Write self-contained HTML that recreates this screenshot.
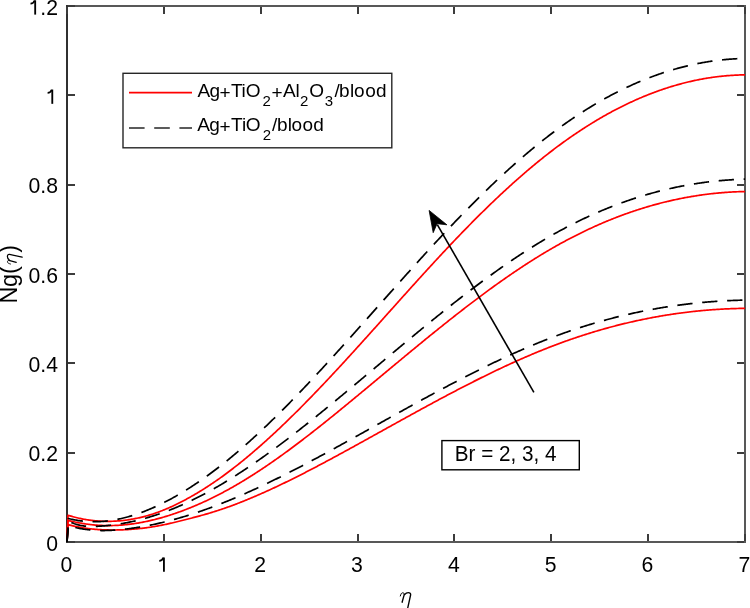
<!DOCTYPE html>
<html><head><meta charset="utf-8"><style>
html,body{margin:0;padding:0;background:#fff;width:750px;height:608px;overflow:hidden;}
svg{display:block;font-family:"Liberation Sans",sans-serif;will-change:transform;}
</style></head><body>
<svg width="750" height="608" viewBox="0 0 750 608">
<rect width="750" height="608" fill="#fff"/>
<g stroke="#3a3a3a" stroke-width="2" fill="none" shape-rendering="crispEdges">
<path d="M66,6 H746 M745,5 V543 M66,542 H746" stroke="#585858"/>
<path d="M67,5 V543" stroke="#303030"/>
<path d="M67,541 V534 M67,7 V14 M164,541 V534 M164,7 V14 M261,541 V534 M261,7 V14 M358,541 V534 M358,7 V14 M454,541 V534 M454,7 V14 M551,541 V534 M551,7 V14 M648,541 V534 M648,7 V14 M745,541 V534 M745,7 V14 M68,542 H75 M744,542 H737 M68,453 H75 M744,453 H737 M68,363 H75 M744,363 H737 M68,274 H75 M744,274 H737 M68,185 H75 M744,185 H737 M68,95 H75 M744,95 H737 M68,6 H75 M744,6 H737" stroke-width="2" stroke="#3c3c3c"/>
</g>
<g fill="none" stroke-linejoin="round">
<path d="M67.00,542.00 L68.00,524.59 L69.00,524.86 L70.00,525.12 L71.00,525.38 L72.00,525.63 L73.00,525.86 L74.00,526.09 L75.00,526.32 L76.00,526.53 L77.00,526.74 L78.00,526.94 L79.00,527.13 L80.00,527.32 L81.00,527.50 L82.00,527.67 L83.00,527.83 L84.00,527.99 L85.00,528.14 L86.00,528.29 L87.00,528.42 L88.00,528.55 L89.00,528.68 L90.00,528.80 L91.00,528.91 L92.00,529.02 L93.00,529.12 L94.00,529.21 L95.00,529.30 L96.00,529.38 L97.00,529.46 L98.00,529.53 L99.00,529.59 L100.00,529.65 L101.00,529.71 L102.00,529.76 L103.00,529.81 L104.00,529.85 L105.00,529.88 L106.00,529.91 L107.00,529.94 L108.00,529.96 L109.00,529.98 L110.00,529.99 L111.00,530.00 L112.00,530.00 L113.00,530.00 L114.00,530.00 L115.00,529.99 L116.00,529.98 L117.00,529.96 L118.00,529.94 L119.00,529.92 L120.00,529.89 L121.00,529.86 L122.00,529.83 L123.00,529.79 L124.00,529.75 L125.00,529.70 L126.00,529.65 L127.00,529.60 L128.00,529.54 L129.00,529.48 L130.00,529.41 L131.00,529.34 L132.00,529.27 L133.00,529.19 L134.00,529.11 L135.00,529.02 L136.00,528.93 L137.00,528.84 L138.00,528.74 L139.00,528.64 L140.00,528.53 L141.00,528.42 L142.00,528.31 L143.00,528.19 L144.00,528.07 L145.00,527.94 L146.00,527.81 L147.00,527.67 L148.00,527.53 L149.00,527.39 L150.00,527.24 L151.00,527.09 L152.00,526.93 L153.00,526.77 L154.00,526.61 L155.00,526.44 L156.00,526.26 L157.00,526.08 L158.00,525.90 L159.00,525.71 L160.00,525.52 L161.00,525.33 L162.00,525.13 L163.00,524.93 L164.00,524.72 L165.00,524.51 L166.00,524.30 L167.00,524.08 L168.00,523.86 L169.00,523.64 L170.00,523.41 L171.00,523.19 L172.00,522.96 L173.00,522.72 L174.00,522.49 L175.00,522.25 L176.00,522.01 L177.00,521.77 L178.00,521.52 L179.00,521.28 L180.00,521.03 L181.00,520.78 L182.00,520.53 L183.00,520.27 L184.00,520.02 L185.00,519.77 L186.00,519.51 L187.00,519.25 L188.00,518.99 L189.00,518.73 L190.00,518.48 L191.00,518.21 L192.00,517.95 L193.00,517.69 L194.00,517.43 L195.00,517.16 L196.00,516.89 L197.00,516.63 L198.00,516.36 L199.00,516.09 L200.00,515.81 L201.00,515.54 L202.00,515.26 L203.00,514.99 L204.00,514.71 L205.00,514.42 L206.00,514.14 L207.00,513.85 L208.00,513.56 L209.00,513.27 L210.00,512.97 L211.00,512.67 L212.00,512.37 L213.00,512.06 L214.00,511.75 L215.00,511.43 L216.00,511.12 L217.00,510.80 L218.00,510.47 L219.00,510.15 L220.00,509.81 L221.00,509.48 L222.00,509.14 L223.00,508.80 L224.00,508.46 L225.00,508.11 L226.00,507.76 L227.00,507.41 L228.00,507.05 L229.00,506.69 L230.00,506.33 L231.00,505.96 L232.00,505.60 L233.00,505.22 L234.00,504.85 L235.00,504.47 L236.00,504.09 L237.00,503.71 L238.00,503.32 L239.00,502.94 L240.00,502.54 L241.00,502.15 L242.00,501.75 L243.00,501.36 L244.00,500.95 L245.00,500.55 L246.00,500.14 L247.00,499.73 L248.00,499.32 L249.00,498.91 L250.00,498.49 L251.00,498.07 L252.00,497.65 L253.00,497.23 L254.00,496.80 L255.00,496.38 L256.00,495.95 L257.00,495.51 L258.00,495.08 L259.00,494.64 L260.00,494.20 L261.00,493.76 L262.00,493.32 L263.00,492.88 L264.00,492.43 L265.00,491.98 L266.00,491.53 L267.00,491.08 L268.00,490.62 L269.00,490.17 L270.00,489.71 L271.00,489.25 L272.00,488.79 L273.00,488.32 L274.00,487.86 L275.00,487.39 L276.00,486.92 L277.00,486.45 L278.00,485.98 L279.00,485.50 L280.00,485.03 L281.00,484.55 L282.00,484.07 L283.00,483.59 L284.00,483.11 L285.00,482.62 L286.00,482.14 L287.00,481.65 L288.00,481.16 L289.00,480.67 L290.00,480.18 L291.00,479.69 L292.00,479.19 L293.00,478.70 L294.00,478.20 L295.00,477.70 L296.00,477.20 L297.00,476.70 L298.00,476.19 L299.00,475.69 L300.00,475.18 L301.00,474.68 L302.00,474.17 L303.00,473.66 L304.00,473.15 L305.00,472.64 L306.00,472.12 L307.00,471.61 L308.00,471.09 L309.00,470.57 L310.00,470.06 L311.00,469.54 L312.00,469.02 L313.00,468.50 L314.00,467.97 L315.00,467.45 L316.00,466.92 L317.00,466.40 L318.00,465.87 L319.00,465.34 L320.00,464.82 L321.00,464.29 L322.00,463.76 L323.00,463.22 L324.00,462.69 L325.00,462.16 L326.00,461.62 L327.00,461.09 L328.00,460.55 L329.00,460.02 L330.00,459.48 L331.00,458.94 L332.00,458.40 L333.00,457.86 L334.00,457.32 L335.00,456.78 L336.00,456.24 L337.00,455.70 L338.00,455.15 L339.00,454.61 L340.00,454.07 L341.00,453.52 L342.00,452.98 L343.00,452.43 L344.00,451.88 L345.00,451.34 L346.00,450.79 L347.00,450.24 L348.00,449.69 L349.00,449.14 L350.00,448.59 L351.00,448.05 L352.00,447.50 L353.00,446.94 L354.00,446.39 L355.00,445.84 L356.00,445.29 L357.00,444.74 L358.00,444.19 L359.00,443.63 L360.00,443.08 L361.00,442.53 L362.00,441.98 L363.00,441.42 L364.00,440.87 L365.00,440.32 L366.00,439.76 L367.00,439.21 L368.00,438.65 L369.00,438.10 L370.00,437.55 L371.00,436.99 L372.00,436.44 L373.00,435.88 L374.00,435.33 L375.00,434.77 L376.00,434.22 L377.00,433.66 L378.00,433.11 L379.00,432.55 L380.00,432.00 L381.00,431.44 L382.00,430.89 L383.00,430.33 L384.00,429.78 L385.00,429.22 L386.00,428.66 L387.00,428.11 L388.00,427.55 L389.00,427.00 L390.00,426.45 L391.00,425.89 L392.00,425.34 L393.00,424.78 L394.00,424.23 L395.00,423.67 L396.00,423.12 L397.00,422.57 L398.00,422.01 L399.00,421.46 L400.00,420.91 L401.00,420.35 L402.00,419.80 L403.00,419.25 L404.00,418.70 L405.00,418.14 L406.00,417.59 L407.00,417.04 L408.00,416.49 L409.00,415.94 L410.00,415.39 L411.00,414.84 L412.00,414.29 L413.00,413.74 L414.00,413.19 L415.00,412.64 L416.00,412.09 L417.00,411.55 L418.00,411.00 L419.00,410.45 L420.00,409.91 L421.00,409.36 L422.00,408.81 L423.00,408.27 L424.00,407.72 L425.00,407.18 L426.00,406.64 L427.00,406.09 L428.00,405.55 L429.00,405.01 L430.00,404.47 L431.00,403.93 L432.00,403.39 L433.00,402.85 L434.00,402.31 L435.00,401.77 L436.00,401.23 L437.00,400.69 L438.00,400.16 L439.00,399.62 L440.00,399.09 L441.00,398.55 L442.00,398.02 L443.00,397.49 L444.00,396.95 L445.00,396.42 L446.00,395.89 L447.00,395.36 L448.00,394.83 L449.00,394.30 L450.00,393.78 L451.00,393.25 L452.00,392.72 L453.00,392.20 L454.00,391.67 L455.00,391.15 L456.00,390.63 L457.00,390.11 L458.00,389.59 L459.00,389.07 L460.00,388.55 L461.00,388.03 L462.00,387.51 L463.00,386.99 L464.00,386.48 L465.00,385.96 L466.00,385.45 L467.00,384.94 L468.00,384.43 L469.00,383.92 L470.00,383.41 L471.00,382.90 L472.00,382.39 L473.00,381.89 L474.00,381.38 L475.00,380.88 L476.00,380.37 L477.00,379.87 L478.00,379.37 L479.00,378.87 L480.00,378.37 L481.00,377.88 L482.00,377.38 L483.00,376.89 L484.00,376.39 L485.00,375.90 L486.00,375.41 L487.00,374.92 L488.00,374.43 L489.00,373.94 L490.00,373.46 L491.00,372.97 L492.00,372.49 L493.00,372.00 L494.00,371.52 L495.00,371.04 L496.00,370.56 L497.00,370.09 L498.00,369.61 L499.00,369.14 L500.00,368.66 L501.00,368.19 L502.00,367.72 L503.00,367.25 L504.00,366.79 L505.00,366.32 L506.00,365.86 L507.00,365.39 L508.00,364.93 L509.00,364.47 L510.00,364.01 L511.00,363.55 L512.00,363.10 L513.00,362.64 L514.00,362.19 L515.00,361.74 L516.00,361.29 L517.00,360.84 L518.00,360.40 L519.00,359.95 L520.00,359.51 L521.00,359.07 L522.00,358.63 L523.00,358.19 L524.00,357.75 L525.00,357.32 L526.00,356.89 L527.00,356.45 L528.00,356.03 L529.00,355.60 L530.00,355.17 L531.00,354.75 L532.00,354.32 L533.00,353.90 L534.00,353.48 L535.00,353.07 L536.00,352.65 L537.00,352.24 L538.00,351.82 L539.00,351.41 L540.00,351.01 L541.00,350.60 L542.00,350.19 L543.00,349.79 L544.00,349.39 L545.00,348.99 L546.00,348.59 L547.00,348.20 L548.00,347.81 L549.00,347.41 L550.00,347.03 L551.00,346.64 L552.00,346.25 L553.00,345.87 L554.00,345.49 L555.00,345.11 L556.00,344.73 L557.00,344.36 L558.00,343.98 L559.00,343.61 L560.00,343.24 L561.00,342.87 L562.00,342.51 L563.00,342.14 L564.00,341.78 L565.00,341.42 L566.00,341.07 L567.00,340.71 L568.00,340.36 L569.00,340.00 L570.00,339.65 L571.00,339.31 L572.00,338.96 L573.00,338.62 L574.00,338.28 L575.00,337.94 L576.00,337.60 L577.00,337.26 L578.00,336.93 L579.00,336.60 L580.00,336.27 L581.00,335.94 L582.00,335.61 L583.00,335.29 L584.00,334.97 L585.00,334.65 L586.00,334.33 L587.00,334.01 L588.00,333.70 L589.00,333.39 L590.00,333.07 L591.00,332.77 L592.00,332.46 L593.00,332.16 L594.00,331.85 L595.00,331.55 L596.00,331.25 L597.00,330.96 L598.00,330.66 L599.00,330.37 L600.00,330.08 L601.00,329.79 L602.00,329.50 L603.00,329.22 L604.00,328.94 L605.00,328.66 L606.00,328.38 L607.00,328.10 L608.00,327.82 L609.00,327.55 L610.00,327.28 L611.00,327.01 L612.00,326.74 L613.00,326.48 L614.00,326.22 L615.00,325.95 L616.00,325.69 L617.00,325.44 L618.00,325.18 L619.00,324.93 L620.00,324.68 L621.00,324.43 L622.00,324.18 L623.00,323.93 L624.00,323.69 L625.00,323.45 L626.00,323.21 L627.00,322.97 L628.00,322.73 L629.00,322.50 L630.00,322.27 L631.00,322.04 L632.00,321.81 L633.00,321.58 L634.00,321.36 L635.00,321.13 L636.00,320.91 L637.00,320.70 L638.00,320.48 L639.00,320.26 L640.00,320.05 L641.00,319.84 L642.00,319.63 L643.00,319.42 L644.00,319.22 L645.00,319.02 L646.00,318.82 L647.00,318.62 L648.00,318.42 L649.00,318.22 L650.00,318.03 L651.00,317.84 L652.00,317.65 L653.00,317.46 L654.00,317.27 L655.00,317.09 L656.00,316.91 L657.00,316.73 L658.00,316.55 L659.00,316.37 L660.00,316.20 L661.00,316.03 L662.00,315.86 L663.00,315.69 L664.00,315.52 L665.00,315.36 L666.00,315.20 L667.00,315.03 L668.00,314.88 L669.00,314.72 L670.00,314.56 L671.00,314.41 L672.00,314.26 L673.00,314.11 L674.00,313.96 L675.00,313.82 L676.00,313.67 L677.00,313.53 L678.00,313.39 L679.00,313.25 L680.00,313.12 L681.00,312.98 L682.00,312.85 L683.00,312.72 L684.00,312.59 L685.00,312.47 L686.00,312.34 L687.00,312.22 L688.00,312.10 L689.00,311.98 L690.00,311.86 L691.00,311.75 L692.00,311.64 L693.00,311.52 L694.00,311.42 L695.00,311.31 L696.00,311.20 L697.00,311.10 L698.00,311.00 L699.00,310.90 L700.00,310.80 L701.00,310.70 L702.00,310.61 L703.00,310.52 L704.00,310.43 L705.00,310.34 L706.00,310.25 L707.00,310.17 L708.00,310.09 L709.00,310.01 L710.00,309.93 L711.00,309.85 L712.00,309.77 L713.00,309.70 L714.00,309.63 L715.00,309.56 L716.00,309.49 L717.00,309.43 L718.00,309.36 L719.00,309.30 L720.00,309.24 L721.00,309.18 L722.00,309.13 L723.00,309.07 L724.00,309.02 L725.00,308.97 L726.00,308.92 L727.00,308.87 L728.00,308.83 L729.00,308.79 L730.00,308.75 L731.00,308.71 L732.00,308.67 L733.00,308.63 L734.00,308.60 L735.00,308.57 L736.00,308.54 L737.00,308.51 L738.00,308.48 L739.00,308.46 L740.00,308.44 L741.00,308.42 L742.00,308.40 L743.00,308.38 L744.00,308.37 L745.00,308.35" stroke="#ff0000" stroke-width="1.7"/>
<path d="M67.00,542.00 L68.00,520.31 L69.00,520.57 L70.00,520.83 L71.00,521.08 L72.00,521.33 L73.00,521.56 L74.00,521.79 L75.00,522.01 L76.00,522.23 L77.00,522.44 L78.00,522.64 L79.00,522.83 L80.00,523.02 L81.00,523.20 L82.00,523.38 L83.00,523.54 L84.00,523.70 L85.00,523.86 L86.00,524.00 L87.00,524.14 L88.00,524.28 L89.00,524.40 L90.00,524.52 L91.00,524.64 L92.00,524.75 L93.00,524.85 L94.00,524.94 L95.00,525.03 L96.00,525.11 L97.00,525.18 L98.00,525.25 L99.00,525.31 L100.00,525.37 L101.00,525.42 L102.00,525.46 L103.00,525.50 L104.00,525.53 L105.00,525.55 L106.00,525.57 L107.00,525.58 L108.00,525.58 L109.00,525.58 L110.00,525.58 L111.00,525.57 L112.00,525.55 L113.00,525.52 L114.00,525.49 L115.00,525.45 L116.00,525.41 L117.00,525.36 L118.00,525.31 L119.00,525.25 L120.00,525.18 L121.00,525.11 L122.00,525.03 L123.00,524.95 L124.00,524.86 L125.00,524.77 L126.00,524.67 L127.00,524.56 L128.00,524.45 L129.00,524.34 L130.00,524.21 L131.00,524.09 L132.00,523.95 L133.00,523.81 L134.00,523.67 L135.00,523.52 L136.00,523.37 L137.00,523.21 L138.00,523.04 L139.00,522.87 L140.00,522.69 L141.00,522.51 L142.00,522.33 L143.00,522.14 L144.00,521.94 L145.00,521.74 L146.00,521.53 L147.00,521.32 L148.00,521.10 L149.00,520.88 L150.00,520.66 L151.00,520.42 L152.00,520.19 L153.00,519.95 L154.00,519.70 L155.00,519.45 L156.00,519.19 L157.00,518.93 L158.00,518.67 L159.00,518.40 L160.00,518.12 L161.00,517.85 L162.00,517.56 L163.00,517.27 L164.00,516.98 L165.00,516.68 L166.00,516.38 L167.00,516.07 L168.00,515.76 L169.00,515.45 L170.00,515.13 L171.00,514.81 L172.00,514.48 L173.00,514.14 L174.00,513.81 L175.00,513.47 L176.00,513.12 L177.00,512.77 L178.00,512.42 L179.00,512.06 L180.00,511.70 L181.00,511.33 L182.00,510.96 L183.00,510.59 L184.00,510.21 L185.00,509.83 L186.00,509.44 L187.00,509.05 L188.00,508.66 L189.00,508.26 L190.00,507.86 L191.00,507.45 L192.00,507.04 L193.00,506.63 L194.00,506.21 L195.00,505.79 L196.00,505.36 L197.00,504.94 L198.00,504.50 L199.00,504.07 L200.00,503.63 L201.00,503.18 L202.00,502.73 L203.00,502.28 L204.00,501.82 L205.00,501.36 L206.00,500.90 L207.00,500.43 L208.00,499.96 L209.00,499.48 L210.00,499.00 L211.00,498.52 L212.00,498.03 L213.00,497.54 L214.00,497.04 L215.00,496.54 L216.00,496.04 L217.00,495.53 L218.00,495.02 L219.00,494.50 L220.00,493.98 L221.00,493.46 L222.00,492.93 L223.00,492.40 L224.00,491.87 L225.00,491.33 L226.00,490.79 L227.00,490.24 L228.00,489.69 L229.00,489.14 L230.00,488.58 L231.00,488.02 L232.00,487.45 L233.00,486.89 L234.00,486.32 L235.00,485.74 L236.00,485.16 L237.00,484.58 L238.00,483.99 L239.00,483.40 L240.00,482.81 L241.00,482.22 L242.00,481.62 L243.00,481.01 L244.00,480.41 L245.00,479.80 L246.00,479.19 L247.00,478.57 L248.00,477.95 L249.00,477.33 L250.00,476.70 L251.00,476.07 L252.00,475.44 L253.00,474.80 L254.00,474.17 L255.00,473.52 L256.00,472.88 L257.00,472.23 L258.00,471.58 L259.00,470.92 L260.00,470.27 L261.00,469.61 L262.00,468.94 L263.00,468.28 L264.00,467.61 L265.00,466.93 L266.00,466.26 L267.00,465.58 L268.00,464.90 L269.00,464.21 L270.00,463.53 L271.00,462.84 L272.00,462.15 L273.00,461.45 L274.00,460.75 L275.00,460.05 L276.00,459.35 L277.00,458.64 L278.00,457.94 L279.00,457.22 L280.00,456.51 L281.00,455.80 L282.00,455.08 L283.00,454.36 L284.00,453.63 L285.00,452.91 L286.00,452.18 L287.00,451.45 L288.00,450.72 L289.00,449.98 L290.00,449.24 L291.00,448.51 L292.00,447.76 L293.00,447.02 L294.00,446.27 L295.00,445.53 L296.00,444.78 L297.00,444.02 L298.00,443.27 L299.00,442.51 L300.00,441.75 L301.00,440.99 L302.00,440.23 L303.00,439.47 L304.00,438.70 L305.00,437.93 L306.00,437.16 L307.00,436.39 L308.00,435.62 L309.00,434.84 L310.00,434.07 L311.00,433.29 L312.00,432.51 L313.00,431.73 L314.00,430.94 L315.00,430.16 L316.00,429.37 L317.00,428.58 L318.00,427.79 L319.00,427.00 L320.00,426.21 L321.00,425.42 L322.00,424.62 L323.00,423.82 L324.00,423.03 L325.00,422.23 L326.00,421.43 L327.00,420.62 L328.00,419.82 L329.00,419.02 L330.00,418.21 L331.00,417.40 L332.00,416.60 L333.00,415.79 L334.00,414.98 L335.00,414.17 L336.00,413.35 L337.00,412.54 L338.00,411.73 L339.00,410.91 L340.00,410.10 L341.00,409.28 L342.00,408.46 L343.00,407.64 L344.00,406.82 L345.00,406.00 L346.00,405.18 L347.00,404.36 L348.00,403.54 L349.00,402.71 L350.00,401.89 L351.00,401.07 L352.00,400.24 L353.00,399.42 L354.00,398.59 L355.00,397.76 L356.00,396.94 L357.00,396.11 L358.00,395.28 L359.00,394.45 L360.00,393.63 L361.00,392.80 L362.00,391.97 L363.00,391.14 L364.00,390.31 L365.00,389.48 L366.00,388.65 L367.00,387.82 L368.00,386.99 L369.00,386.15 L370.00,385.32 L371.00,384.49 L372.00,383.66 L373.00,382.83 L374.00,381.99 L375.00,381.16 L376.00,380.33 L377.00,379.50 L378.00,378.67 L379.00,377.83 L380.00,377.00 L381.00,376.17 L382.00,375.33 L383.00,374.50 L384.00,373.67 L385.00,372.84 L386.00,372.00 L387.00,371.17 L388.00,370.34 L389.00,369.51 L390.00,368.68 L391.00,367.84 L392.00,367.01 L393.00,366.18 L394.00,365.35 L395.00,364.52 L396.00,363.69 L397.00,362.86 L398.00,362.03 L399.00,361.20 L400.00,360.37 L401.00,359.54 L402.00,358.71 L403.00,357.88 L404.00,357.05 L405.00,356.22 L406.00,355.40 L407.00,354.57 L408.00,353.74 L409.00,352.92 L410.00,352.09 L411.00,351.27 L412.00,350.44 L413.00,349.62 L414.00,348.79 L415.00,347.97 L416.00,347.15 L417.00,346.33 L418.00,345.51 L419.00,344.69 L420.00,343.87 L421.00,343.05 L422.00,342.23 L423.00,341.41 L424.00,340.59 L425.00,339.78 L426.00,338.96 L427.00,338.15 L428.00,337.33 L429.00,336.52 L430.00,335.71 L431.00,334.90 L432.00,334.09 L433.00,333.28 L434.00,332.47 L435.00,331.66 L436.00,330.86 L437.00,330.05 L438.00,329.24 L439.00,328.44 L440.00,327.64 L441.00,326.84 L442.00,326.04 L443.00,325.24 L444.00,324.44 L445.00,323.64 L446.00,322.84 L447.00,322.05 L448.00,321.26 L449.00,320.46 L450.00,319.67 L451.00,318.88 L452.00,318.09 L453.00,317.30 L454.00,316.52 L455.00,315.73 L456.00,314.95 L457.00,314.16 L458.00,313.38 L459.00,312.60 L460.00,311.82 L461.00,311.05 L462.00,310.27 L463.00,309.50 L464.00,308.72 L465.00,307.95 L466.00,307.18 L467.00,306.41 L468.00,305.65 L469.00,304.88 L470.00,304.12 L471.00,303.35 L472.00,302.59 L473.00,301.83 L474.00,301.07 L475.00,300.32 L476.00,299.56 L477.00,298.81 L478.00,298.06 L479.00,297.31 L480.00,296.56 L481.00,295.82 L482.00,295.07 L483.00,294.33 L484.00,293.59 L485.00,292.85 L486.00,292.11 L487.00,291.38 L488.00,290.65 L489.00,289.91 L490.00,289.18 L491.00,288.46 L492.00,287.73 L493.00,287.01 L494.00,286.28 L495.00,285.56 L496.00,284.85 L497.00,284.13 L498.00,283.42 L499.00,282.71 L500.00,282.00 L501.00,281.29 L502.00,280.58 L503.00,279.88 L504.00,279.18 L505.00,278.48 L506.00,277.78 L507.00,277.09 L508.00,276.39 L509.00,275.70 L510.00,275.02 L511.00,274.33 L512.00,273.65 L513.00,272.97 L514.00,272.29 L515.00,271.61 L516.00,270.94 L517.00,270.26 L518.00,269.59 L519.00,268.93 L520.00,268.26 L521.00,267.60 L522.00,266.94 L523.00,266.28 L524.00,265.63 L525.00,264.98 L526.00,264.33 L527.00,263.68 L528.00,263.03 L529.00,262.39 L530.00,261.75 L531.00,261.12 L532.00,260.48 L533.00,259.85 L534.00,259.22 L535.00,258.59 L536.00,257.97 L537.00,257.35 L538.00,256.73 L539.00,256.12 L540.00,255.50 L541.00,254.89 L542.00,254.29 L543.00,253.68 L544.00,253.08 L545.00,252.48 L546.00,251.89 L547.00,251.29 L548.00,250.70 L549.00,250.12 L550.00,249.53 L551.00,248.95 L552.00,248.37 L553.00,247.80 L554.00,247.23 L555.00,246.66 L556.00,246.09 L557.00,245.53 L558.00,244.97 L559.00,244.41 L560.00,243.86 L561.00,243.30 L562.00,242.76 L563.00,242.21 L564.00,241.67 L565.00,241.13 L566.00,240.59 L567.00,240.06 L568.00,239.53 L569.00,239.00 L570.00,238.48 L571.00,237.96 L572.00,237.44 L573.00,236.92 L574.00,236.41 L575.00,235.90 L576.00,235.39 L577.00,234.89 L578.00,234.39 L579.00,233.89 L580.00,233.39 L581.00,232.90 L582.00,232.41 L583.00,231.93 L584.00,231.44 L585.00,230.96 L586.00,230.49 L587.00,230.01 L588.00,229.54 L589.00,229.07 L590.00,228.61 L591.00,228.15 L592.00,227.69 L593.00,227.23 L594.00,226.78 L595.00,226.33 L596.00,225.88 L597.00,225.43 L598.00,224.99 L599.00,224.55 L600.00,224.12 L601.00,223.68 L602.00,223.25 L603.00,222.83 L604.00,222.40 L605.00,221.98 L606.00,221.56 L607.00,221.15 L608.00,220.73 L609.00,220.33 L610.00,219.92 L611.00,219.51 L612.00,219.11 L613.00,218.72 L614.00,218.32 L615.00,217.93 L616.00,217.54 L617.00,217.15 L618.00,216.77 L619.00,216.39 L620.00,216.01 L621.00,215.64 L622.00,215.27 L623.00,214.90 L624.00,214.53 L625.00,214.17 L626.00,213.81 L627.00,213.45 L628.00,213.10 L629.00,212.75 L630.00,212.40 L631.00,212.05 L632.00,211.71 L633.00,211.37 L634.00,211.04 L635.00,210.70 L636.00,210.37 L637.00,210.04 L638.00,209.72 L639.00,209.40 L640.00,209.08 L641.00,208.76 L642.00,208.45 L643.00,208.14 L644.00,207.83 L645.00,207.53 L646.00,207.22 L647.00,206.93 L648.00,206.63 L649.00,206.34 L650.00,206.05 L651.00,205.76 L652.00,205.47 L653.00,205.19 L654.00,204.91 L655.00,204.64 L656.00,204.37 L657.00,204.10 L658.00,203.83 L659.00,203.56 L660.00,203.30 L661.00,203.04 L662.00,202.79 L663.00,202.54 L664.00,202.29 L665.00,202.04 L666.00,201.80 L667.00,201.55 L668.00,201.32 L669.00,201.08 L670.00,200.85 L671.00,200.62 L672.00,200.39 L673.00,200.17 L674.00,199.95 L675.00,199.73 L676.00,199.51 L677.00,199.30 L678.00,199.09 L679.00,198.88 L680.00,198.68 L681.00,198.48 L682.00,198.28 L683.00,198.09 L684.00,197.89 L685.00,197.70 L686.00,197.52 L687.00,197.33 L688.00,197.15 L689.00,196.97 L690.00,196.80 L691.00,196.63 L692.00,196.46 L693.00,196.29 L694.00,196.13 L695.00,195.97 L696.00,195.81 L697.00,195.65 L698.00,195.50 L699.00,195.35 L700.00,195.20 L701.00,195.06 L702.00,194.92 L703.00,194.78 L704.00,194.64 L705.00,194.51 L706.00,194.38 L707.00,194.26 L708.00,194.13 L709.00,194.01 L710.00,193.89 L711.00,193.78 L712.00,193.66 L713.00,193.55 L714.00,193.45 L715.00,193.34 L716.00,193.24 L717.00,193.14 L718.00,193.05 L719.00,192.95 L720.00,192.86 L721.00,192.78 L722.00,192.69 L723.00,192.61 L724.00,192.53 L725.00,192.46 L726.00,192.38 L727.00,192.31 L728.00,192.25 L729.00,192.18 L730.00,192.12 L731.00,192.06 L732.00,192.00 L733.00,191.95 L734.00,191.90 L735.00,191.85 L736.00,191.81 L737.00,191.76 L738.00,191.73 L739.00,191.69 L740.00,191.65 L741.00,191.62 L742.00,191.60 L743.00,191.57 L744.00,191.55 L745.00,191.53" stroke="#ff0000" stroke-width="1.7"/>
<path d="M67.00,542.00 L68.00,515.23 L69.00,515.54 L70.00,515.85 L71.00,516.15 L72.00,516.43 L73.00,516.71 L74.00,516.99 L75.00,517.25 L76.00,517.50 L77.00,517.75 L78.00,517.99 L79.00,518.21 L80.00,518.43 L81.00,518.65 L82.00,518.85 L83.00,519.05 L84.00,519.23 L85.00,519.41 L86.00,519.58 L87.00,519.74 L88.00,519.90 L89.00,520.05 L90.00,520.18 L91.00,520.31 L92.00,520.44 L93.00,520.55 L94.00,520.66 L95.00,520.76 L96.00,520.85 L97.00,520.93 L98.00,521.01 L99.00,521.07 L100.00,521.13 L101.00,521.19 L102.00,521.23 L103.00,521.27 L104.00,521.30 L105.00,521.32 L106.00,521.34 L107.00,521.34 L108.00,521.34 L109.00,521.34 L110.00,521.32 L111.00,521.30 L112.00,521.27 L113.00,521.24 L114.00,521.19 L115.00,521.14 L116.00,521.09 L117.00,521.02 L118.00,520.95 L119.00,520.87 L120.00,520.79 L121.00,520.69 L122.00,520.59 L123.00,520.49 L124.00,520.37 L125.00,520.25 L126.00,520.13 L127.00,519.99 L128.00,519.85 L129.00,519.70 L130.00,519.54 L131.00,519.38 L132.00,519.21 L133.00,519.03 L134.00,518.84 L135.00,518.65 L136.00,518.45 L137.00,518.24 L138.00,518.03 L139.00,517.81 L140.00,517.58 L141.00,517.34 L142.00,517.10 L143.00,516.85 L144.00,516.59 L145.00,516.32 L146.00,516.05 L147.00,515.77 L148.00,515.48 L149.00,515.19 L150.00,514.89 L151.00,514.58 L152.00,514.26 L153.00,513.94 L154.00,513.60 L155.00,513.26 L156.00,512.92 L157.00,512.56 L158.00,512.20 L159.00,511.83 L160.00,511.46 L161.00,511.07 L162.00,510.68 L163.00,510.29 L164.00,509.88 L165.00,509.47 L166.00,509.05 L167.00,508.63 L168.00,508.20 L169.00,507.76 L170.00,507.32 L171.00,506.87 L172.00,506.41 L173.00,505.95 L174.00,505.48 L175.00,505.00 L176.00,504.52 L177.00,504.03 L178.00,503.54 L179.00,503.04 L180.00,502.54 L181.00,502.03 L182.00,501.51 L183.00,500.99 L184.00,500.46 L185.00,499.93 L186.00,499.39 L187.00,498.85 L188.00,498.30 L189.00,497.75 L190.00,497.19 L191.00,496.63 L192.00,496.06 L193.00,495.49 L194.00,494.91 L195.00,494.33 L196.00,493.74 L197.00,493.15 L198.00,492.55 L199.00,491.95 L200.00,491.34 L201.00,490.73 L202.00,490.11 L203.00,489.48 L204.00,488.86 L205.00,488.22 L206.00,487.58 L207.00,486.94 L208.00,486.29 L209.00,485.64 L210.00,484.98 L211.00,484.32 L212.00,483.65 L213.00,482.97 L214.00,482.30 L215.00,481.61 L216.00,480.92 L217.00,480.23 L218.00,479.53 L219.00,478.83 L220.00,478.12 L221.00,477.40 L222.00,476.69 L223.00,475.96 L224.00,475.23 L225.00,474.50 L226.00,473.76 L227.00,473.02 L228.00,472.28 L229.00,471.53 L230.00,470.77 L231.00,470.01 L232.00,469.24 L233.00,468.48 L234.00,467.70 L235.00,466.92 L236.00,466.14 L237.00,465.35 L238.00,464.56 L239.00,463.77 L240.00,462.97 L241.00,462.16 L242.00,461.36 L243.00,460.54 L244.00,459.73 L245.00,458.91 L246.00,458.08 L247.00,457.25 L248.00,456.42 L249.00,455.58 L250.00,454.74 L251.00,453.90 L252.00,453.05 L253.00,452.19 L254.00,451.34 L255.00,450.48 L256.00,449.61 L257.00,448.75 L258.00,447.87 L259.00,447.00 L260.00,446.12 L261.00,445.24 L262.00,444.35 L263.00,443.46 L264.00,442.57 L265.00,441.67 L266.00,440.77 L267.00,439.87 L268.00,438.96 L269.00,438.05 L270.00,437.14 L271.00,436.22 L272.00,435.30 L273.00,434.37 L274.00,433.45 L275.00,432.52 L276.00,431.58 L277.00,430.65 L278.00,429.71 L279.00,428.76 L280.00,427.82 L281.00,426.87 L282.00,425.91 L283.00,424.96 L284.00,424.00 L285.00,423.04 L286.00,422.07 L287.00,421.11 L288.00,420.14 L289.00,419.16 L290.00,418.19 L291.00,417.21 L292.00,416.23 L293.00,415.24 L294.00,414.26 L295.00,413.27 L296.00,412.27 L297.00,411.28 L298.00,410.28 L299.00,409.28 L300.00,408.28 L301.00,407.27 L302.00,406.26 L303.00,405.25 L304.00,404.24 L305.00,403.23 L306.00,402.21 L307.00,401.19 L308.00,400.17 L309.00,399.14 L310.00,398.12 L311.00,397.09 L312.00,396.06 L313.00,395.02 L314.00,393.99 L315.00,392.95 L316.00,391.91 L317.00,390.87 L318.00,389.82 L319.00,388.78 L320.00,387.73 L321.00,386.68 L322.00,385.63 L323.00,384.57 L324.00,383.52 L325.00,382.46 L326.00,381.40 L327.00,380.34 L328.00,379.28 L329.00,378.21 L330.00,377.14 L331.00,376.08 L332.00,375.01 L333.00,373.93 L334.00,372.86 L335.00,371.79 L336.00,370.71 L337.00,369.63 L338.00,368.55 L339.00,367.47 L340.00,366.39 L341.00,365.31 L342.00,364.22 L343.00,363.13 L344.00,362.05 L345.00,360.96 L346.00,359.87 L347.00,358.78 L348.00,357.68 L349.00,356.59 L350.00,355.49 L351.00,354.40 L352.00,353.30 L353.00,352.20 L354.00,351.10 L355.00,350.00 L356.00,348.90 L357.00,347.80 L358.00,346.69 L359.00,345.59 L360.00,344.48 L361.00,343.38 L362.00,342.27 L363.00,341.16 L364.00,340.05 L365.00,338.94 L366.00,337.83 L367.00,336.72 L368.00,335.61 L369.00,334.50 L370.00,333.39 L371.00,332.27 L372.00,331.16 L373.00,330.05 L374.00,328.93 L375.00,327.82 L376.00,326.70 L377.00,325.59 L378.00,324.47 L379.00,323.35 L380.00,322.24 L381.00,321.12 L382.00,320.00 L383.00,318.88 L384.00,317.77 L385.00,316.65 L386.00,315.53 L387.00,314.41 L388.00,313.30 L389.00,312.18 L390.00,311.06 L391.00,309.94 L392.00,308.83 L393.00,307.71 L394.00,306.59 L395.00,305.47 L396.00,304.36 L397.00,303.24 L398.00,302.12 L399.00,301.01 L400.00,299.89 L401.00,298.78 L402.00,297.66 L403.00,296.55 L404.00,295.43 L405.00,294.32 L406.00,293.21 L407.00,292.10 L408.00,290.98 L409.00,289.87 L410.00,288.76 L411.00,287.65 L412.00,286.54 L413.00,285.44 L414.00,284.33 L415.00,283.22 L416.00,282.11 L417.00,281.01 L418.00,279.91 L419.00,278.80 L420.00,277.70 L421.00,276.60 L422.00,275.50 L423.00,274.40 L424.00,273.30 L425.00,272.21 L426.00,271.11 L427.00,270.01 L428.00,268.92 L429.00,267.83 L430.00,266.74 L431.00,265.65 L432.00,264.56 L433.00,263.47 L434.00,262.39 L435.00,261.30 L436.00,260.22 L437.00,259.14 L438.00,258.06 L439.00,256.98 L440.00,255.91 L441.00,254.83 L442.00,253.76 L443.00,252.69 L444.00,251.62 L445.00,250.55 L446.00,249.48 L447.00,248.42 L448.00,247.36 L449.00,246.30 L450.00,245.24 L451.00,244.18 L452.00,243.12 L453.00,242.07 L454.00,241.02 L455.00,239.97 L456.00,238.92 L457.00,237.88 L458.00,236.84 L459.00,235.80 L460.00,234.76 L461.00,233.72 L462.00,232.69 L463.00,231.66 L464.00,230.63 L465.00,229.60 L466.00,228.57 L467.00,227.55 L468.00,226.53 L469.00,225.51 L470.00,224.49 L471.00,223.48 L472.00,222.47 L473.00,221.46 L474.00,220.45 L475.00,219.45 L476.00,218.45 L477.00,217.45 L478.00,216.45 L479.00,215.46 L480.00,214.46 L481.00,213.48 L482.00,212.49 L483.00,211.50 L484.00,210.52 L485.00,209.54 L486.00,208.57 L487.00,207.59 L488.00,206.62 L489.00,205.65 L490.00,204.69 L491.00,203.72 L492.00,202.76 L493.00,201.80 L494.00,200.85 L495.00,199.90 L496.00,198.95 L497.00,198.00 L498.00,197.05 L499.00,196.11 L500.00,195.17 L501.00,194.24 L502.00,193.31 L503.00,192.38 L504.00,191.45 L505.00,190.52 L506.00,189.60 L507.00,188.69 L508.00,187.77 L509.00,186.86 L510.00,185.95 L511.00,185.04 L512.00,184.14 L513.00,183.24 L514.00,182.34 L515.00,181.45 L516.00,180.56 L517.00,179.67 L518.00,178.78 L519.00,177.90 L520.00,177.03 L521.00,176.15 L522.00,175.28 L523.00,174.41 L524.00,173.54 L525.00,172.68 L526.00,171.82 L527.00,170.97 L528.00,170.12 L529.00,169.27 L530.00,168.42 L531.00,167.58 L532.00,166.74 L533.00,165.91 L534.00,165.08 L535.00,164.25 L536.00,163.42 L537.00,162.60 L538.00,161.78 L539.00,160.97 L540.00,160.16 L541.00,159.35 L542.00,158.55 L543.00,157.75 L544.00,156.95 L545.00,156.16 L546.00,155.37 L547.00,154.58 L548.00,153.80 L549.00,153.02 L550.00,152.25 L551.00,151.48 L552.00,150.71 L553.00,149.95 L554.00,149.19 L555.00,148.43 L556.00,147.68 L557.00,146.93 L558.00,146.19 L559.00,145.45 L560.00,144.71 L561.00,143.98 L562.00,143.25 L563.00,142.52 L564.00,141.80 L565.00,141.08 L566.00,140.37 L567.00,139.66 L568.00,138.95 L569.00,138.25 L570.00,137.55 L571.00,136.85 L572.00,136.16 L573.00,135.47 L574.00,134.79 L575.00,134.11 L576.00,133.43 L577.00,132.76 L578.00,132.09 L579.00,131.43 L580.00,130.76 L581.00,130.11 L582.00,129.45 L583.00,128.80 L584.00,128.16 L585.00,127.51 L586.00,126.88 L587.00,126.24 L588.00,125.61 L589.00,124.98 L590.00,124.36 L591.00,123.74 L592.00,123.13 L593.00,122.51 L594.00,121.91 L595.00,121.30 L596.00,120.70 L597.00,120.10 L598.00,119.51 L599.00,118.92 L600.00,118.34 L601.00,117.76 L602.00,117.18 L603.00,116.60 L604.00,116.04 L605.00,115.47 L606.00,114.91 L607.00,114.35 L608.00,113.79 L609.00,113.24 L610.00,112.70 L611.00,112.15 L612.00,111.62 L613.00,111.08 L614.00,110.55 L615.00,110.02 L616.00,109.50 L617.00,108.98 L618.00,108.46 L619.00,107.95 L620.00,107.44 L621.00,106.94 L622.00,106.44 L623.00,105.94 L624.00,105.45 L625.00,104.96 L626.00,104.47 L627.00,103.99 L628.00,103.52 L629.00,103.04 L630.00,102.57 L631.00,102.11 L632.00,101.65 L633.00,101.19 L634.00,100.73 L635.00,100.28 L636.00,99.84 L637.00,99.39 L638.00,98.96 L639.00,98.52 L640.00,98.09 L641.00,97.66 L642.00,97.24 L643.00,96.82 L644.00,96.41 L645.00,96.00 L646.00,95.59 L647.00,95.19 L648.00,94.79 L649.00,94.39 L650.00,94.00 L651.00,93.61 L652.00,93.23 L653.00,92.85 L654.00,92.47 L655.00,92.10 L656.00,91.73 L657.00,91.37 L658.00,91.01 L659.00,90.65 L660.00,90.30 L661.00,89.95 L662.00,89.61 L663.00,89.26 L664.00,88.93 L665.00,88.60 L666.00,88.27 L667.00,87.94 L668.00,87.62 L669.00,87.30 L670.00,86.99 L671.00,86.68 L672.00,86.38 L673.00,86.08 L674.00,85.78 L675.00,85.48 L676.00,85.20 L677.00,84.91 L678.00,84.63 L679.00,84.35 L680.00,84.08 L681.00,83.81 L682.00,83.54 L683.00,83.28 L684.00,83.02 L685.00,82.77 L686.00,82.52 L687.00,82.27 L688.00,82.03 L689.00,81.79 L690.00,81.56 L691.00,81.33 L692.00,81.10 L693.00,80.88 L694.00,80.66 L695.00,80.45 L696.00,80.24 L697.00,80.03 L698.00,79.83 L699.00,79.63 L700.00,79.44 L701.00,79.25 L702.00,79.06 L703.00,78.88 L704.00,78.70 L705.00,78.53 L706.00,78.36 L707.00,78.19 L708.00,78.03 L709.00,77.87 L710.00,77.72 L711.00,77.57 L712.00,77.42 L713.00,77.28 L714.00,77.14 L715.00,77.01 L716.00,76.88 L717.00,76.75 L718.00,76.63 L719.00,76.51 L720.00,76.40 L721.00,76.29 L722.00,76.18 L723.00,76.08 L724.00,75.98 L725.00,75.89 L726.00,75.80 L727.00,75.72 L728.00,75.63 L729.00,75.56 L730.00,75.48 L731.00,75.41 L732.00,75.35 L733.00,75.29 L734.00,75.23 L735.00,75.18 L736.00,75.13 L737.00,75.08 L738.00,75.04 L739.00,75.00 L740.00,74.97 L741.00,74.94 L742.00,74.92 L743.00,74.89 L744.00,74.88 L745.00,74.87" stroke="#ff0000" stroke-width="1.7"/>
<path d="M67.00,542.00 L68.40,525.60 L69.40,525.91 L70.40,526.20 L71.40,526.49 L72.40,526.76 L73.40,527.02 L74.40,527.28 L75.40,527.52 L76.40,527.75 L77.40,527.97 L78.40,528.18 L79.40,528.38 L80.40,528.57 L81.40,528.75 L82.40,528.92 L83.40,529.08 L84.40,529.24 L85.40,529.38 L86.40,529.51 L87.40,529.64 L88.40,529.75 L89.40,529.86 L90.40,529.96 L91.40,530.05 L92.40,530.13 L93.40,530.21 L94.40,530.27 L95.40,530.33 L96.40,530.38 L97.40,530.43 L98.40,530.46 L99.40,530.49 L100.40,530.51 L101.40,530.53 L102.40,530.53 L103.40,530.54 L104.40,530.53 L105.40,530.52 L106.40,530.50 L107.40,530.47 L108.40,530.44 L109.40,530.40 L110.40,530.36 L111.40,530.31 L112.40,530.26 L113.40,530.20 L114.40,530.13 L115.40,530.06 L116.40,529.99 L117.40,529.91 L118.40,529.82 L119.40,529.73 L120.40,529.64 L121.40,529.54 L122.40,529.44 L123.40,529.33 L124.40,529.22 L125.40,529.11 L126.40,528.99 L127.40,528.87 L128.40,528.74 L129.40,528.61 L130.40,528.48 L131.40,528.35 L132.40,528.21 L133.40,528.06 L134.40,527.92 L135.40,527.77 L136.40,527.62 L137.40,527.46 L138.40,527.30 L139.40,527.14 L140.40,526.97 L141.40,526.80 L142.40,526.63 L143.40,526.45 L144.40,526.27 L145.40,526.09 L146.40,525.90 L147.40,525.71 L148.40,525.52 L149.40,525.32 L150.40,525.12 L151.40,524.92 L152.40,524.71 L153.40,524.50 L154.40,524.29 L155.40,524.07 L156.40,523.85 L157.40,523.63 L158.40,523.41 L159.40,523.18 L160.40,522.95 L161.40,522.71 L162.40,522.47 L163.40,522.23 L164.40,521.99 L165.40,521.74 L166.40,521.49 L167.40,521.24 L168.40,520.98 L169.40,520.72 L170.40,520.46 L171.40,520.20 L172.40,519.93 L173.40,519.66 L174.40,519.39 L175.40,519.11 L176.40,518.83 L177.40,518.55 L178.40,518.26 L179.40,517.97 L180.40,517.68 L181.40,517.39 L182.40,517.09 L183.40,516.79 L184.40,516.49 L185.40,516.19 L186.40,515.88 L187.40,515.57 L188.40,515.26 L189.40,514.94 L190.40,514.62 L191.40,514.30 L192.40,513.98 L193.40,513.65 L194.40,513.32 L195.40,512.99 L196.40,512.66 L197.40,512.32 L198.40,511.98 L199.40,511.64 L200.40,511.30 L201.40,510.95 L202.40,510.60 L203.40,510.25 L204.40,509.89 L205.40,509.54 L206.40,509.18 L207.40,508.82 L208.40,508.45 L209.40,508.09 L210.40,507.72 L211.40,507.35 L212.40,506.97 L213.40,506.60 L214.40,506.22 L215.40,505.84 L216.40,505.46 L217.40,505.07 L218.40,504.68 L219.40,504.29 L220.40,503.90 L221.40,503.51 L222.40,503.11 L223.40,502.71 L224.40,502.31 L225.40,501.91 L226.40,501.51 L227.40,501.10 L228.40,500.69 L229.40,500.28 L230.40,499.87 L231.40,499.45 L232.40,499.03 L233.40,498.61 L234.40,498.19 L235.40,497.77 L236.40,497.34 L237.40,496.92 L238.40,496.49 L239.40,496.06 L240.40,495.62 L241.40,495.19 L242.40,494.75 L243.40,494.31 L244.40,493.87 L245.40,493.43 L246.40,492.98 L247.40,492.54 L248.40,492.09 L249.40,491.64 L250.40,491.19 L251.40,490.74 L252.40,490.28 L253.40,489.82 L254.40,489.36 L255.40,488.90 L256.40,488.44 L257.40,487.98 L258.40,487.51 L259.40,487.05 L260.40,486.58 L261.40,486.11 L262.40,485.64 L263.40,485.16 L264.40,484.69 L265.40,484.21 L266.40,483.73 L267.40,483.25 L268.40,482.77 L269.40,482.29 L270.40,481.81 L271.40,481.32 L272.40,480.83 L273.40,480.35 L274.40,479.86 L275.40,479.36 L276.40,478.87 L277.40,478.38 L278.40,477.88 L279.40,477.39 L280.40,476.89 L281.40,476.39 L282.40,475.89 L283.40,475.39 L284.40,474.88 L285.40,474.38 L286.40,473.87 L287.40,473.37 L288.40,472.86 L289.40,472.35 L290.40,471.84 L291.40,471.33 L292.40,470.81 L293.40,470.30 L294.40,469.78 L295.40,469.27 L296.40,468.75 L297.40,468.23 L298.40,467.71 L299.40,467.19 L300.40,466.67 L301.40,466.15 L302.40,465.63 L303.40,465.10 L304.40,464.58 L305.40,464.05 L306.40,463.52 L307.40,462.99 L308.40,462.46 L309.40,461.93 L310.40,461.40 L311.40,460.87 L312.40,460.34 L313.40,459.81 L314.40,459.27 L315.40,458.74 L316.40,458.20 L317.40,457.66 L318.40,457.13 L319.40,456.59 L320.40,456.05 L321.40,455.51 L322.40,454.97 L323.40,454.43 L324.40,453.89 L325.40,453.35 L326.40,452.80 L327.40,452.26 L328.40,451.71 L329.40,451.17 L330.40,450.62 L331.40,450.08 L332.40,449.53 L333.40,448.99 L334.40,448.44 L335.40,447.89 L336.40,447.34 L337.40,446.79 L338.40,446.24 L339.40,445.69 L340.40,445.14 L341.40,444.59 L342.40,444.04 L343.40,443.49 L344.40,442.94 L345.40,442.38 L346.40,441.83 L347.40,441.28 L348.40,440.73 L349.40,440.17 L350.40,439.62 L351.40,439.06 L352.40,438.51 L353.40,437.95 L354.40,437.40 L355.40,436.84 L356.40,436.29 L357.40,435.73 L358.40,435.17 L359.40,434.62 L360.40,434.06 L361.40,433.50 L362.40,432.95 L363.40,432.39 L364.40,431.83 L365.40,431.27 L366.40,430.72 L367.40,430.16 L368.40,429.60 L369.40,429.04 L370.40,428.48 L371.40,427.93 L372.40,427.37 L373.40,426.81 L374.40,426.25 L375.40,425.69 L376.40,425.13 L377.40,424.57 L378.40,424.02 L379.40,423.46 L380.40,422.90 L381.40,422.34 L382.40,421.78 L383.40,421.22 L384.40,420.66 L385.40,420.11 L386.40,419.55 L387.40,418.99 L388.40,418.43 L389.40,417.87 L390.40,417.32 L391.40,416.76 L392.40,416.20 L393.40,415.64 L394.40,415.09 L395.40,414.53 L396.40,413.97 L397.40,413.42 L398.40,412.86 L399.40,412.31 L400.40,411.75 L401.40,411.19 L402.40,410.64 L403.40,410.08 L404.40,409.53 L405.40,408.98 L406.40,408.42 L407.40,407.87 L408.40,407.31 L409.40,406.76 L410.40,406.21 L411.40,405.66 L412.40,405.11 L413.40,404.55 L414.40,404.00 L415.40,403.45 L416.40,402.90 L417.40,402.35 L418.40,401.81 L419.40,401.26 L420.40,400.71 L421.40,400.16 L422.40,399.61 L423.40,399.07 L424.40,398.52 L425.40,397.98 L426.40,397.43 L427.40,396.89 L428.40,396.34 L429.40,395.80 L430.40,395.26 L431.40,394.72 L432.40,394.18 L433.40,393.63 L434.40,393.09 L435.40,392.56 L436.40,392.02 L437.40,391.48 L438.40,390.94 L439.40,390.41 L440.40,389.87 L441.40,389.34 L442.40,388.80 L443.40,388.27 L444.40,387.73 L445.40,387.20 L446.40,386.67 L447.40,386.14 L448.40,385.61 L449.40,385.08 L450.40,384.56 L451.40,384.03 L452.40,383.50 L453.40,382.98 L454.40,382.45 L455.40,381.93 L456.40,381.41 L457.40,380.89 L458.40,380.37 L459.40,379.85 L460.40,379.33 L461.40,378.81 L462.40,378.29 L463.40,377.78 L464.40,377.26 L465.40,376.75 L466.40,376.24 L467.40,375.72 L468.40,375.21 L469.40,374.70 L470.40,374.20 L471.40,373.69 L472.40,373.18 L473.40,372.68 L474.40,372.17 L475.40,371.67 L476.40,371.17 L477.40,370.67 L478.40,370.17 L479.40,369.67 L480.40,369.17 L481.40,368.68 L482.40,368.18 L483.40,367.69 L484.40,367.20 L485.40,366.71 L486.40,366.22 L487.40,365.73 L488.40,365.24 L489.40,364.76 L490.40,364.27 L491.40,363.79 L492.40,363.31 L493.40,362.83 L494.40,362.35 L495.40,361.87 L496.40,361.40 L497.40,360.92 L498.40,360.45 L499.40,359.98 L500.40,359.51 L501.40,359.04 L502.40,358.57 L503.40,358.10 L504.40,357.64 L505.40,357.18 L506.40,356.71 L507.40,356.25 L508.40,355.80 L509.40,355.34 L510.40,354.88 L511.40,354.43 L512.40,353.98 L513.40,353.53 L514.40,353.08 L515.40,352.63 L516.40,352.18 L517.40,351.74 L518.40,351.30 L519.40,350.86 L520.40,350.42 L521.40,349.98 L522.40,349.54 L523.40,349.11 L524.40,348.68 L525.40,348.24 L526.40,347.82 L527.40,347.39 L528.40,346.96 L529.40,346.54 L530.40,346.12 L531.40,345.70 L532.40,345.28 L533.40,344.86 L534.40,344.45 L535.40,344.03 L536.40,343.62 L537.40,343.21 L538.40,342.81 L539.40,342.40 L540.40,342.00 L541.40,341.60 L542.40,341.20 L543.40,340.80 L544.40,340.40 L545.40,340.01 L546.40,339.62 L547.40,339.23 L548.40,338.84 L549.40,338.45 L550.40,338.07 L551.40,337.69 L552.40,337.31 L553.40,336.93 L554.40,336.56 L555.40,336.18 L556.40,335.81 L557.40,335.44 L558.40,335.07 L559.40,334.71 L560.40,334.34 L561.40,333.98 L562.40,333.62 L563.40,333.27 L564.40,332.91 L565.40,332.56 L566.40,332.21 L567.40,331.86 L568.40,331.51 L569.40,331.16 L570.40,330.82 L571.40,330.48 L572.40,330.14 L573.40,329.80 L574.40,329.47 L575.40,329.13 L576.40,328.80 L577.40,328.47 L578.40,328.15 L579.40,327.82 L580.40,327.50 L581.40,327.18 L582.40,326.86 L583.40,326.54 L584.40,326.23 L585.40,325.91 L586.40,325.60 L587.40,325.29 L588.40,324.98 L589.40,324.68 L590.40,324.38 L591.40,324.07 L592.40,323.77 L593.40,323.48 L594.40,323.18 L595.40,322.89 L596.40,322.60 L597.40,322.31 L598.40,322.02 L599.40,321.73 L600.40,321.45 L601.40,321.17 L602.40,320.89 L603.40,320.61 L604.40,320.33 L605.40,320.06 L606.40,319.79 L607.40,319.52 L608.40,319.25 L609.40,318.98 L610.40,318.72 L611.40,318.46 L612.40,318.20 L613.40,317.94 L614.40,317.68 L615.40,317.43 L616.40,317.17 L617.40,316.92 L618.40,316.68 L619.40,316.43 L620.40,316.18 L621.40,315.94 L622.40,315.70 L623.40,315.46 L624.40,315.22 L625.40,314.99 L626.40,314.75 L627.40,314.52 L628.40,314.29 L629.40,314.06 L630.40,313.84 L631.40,313.61 L632.40,313.39 L633.40,313.17 L634.40,312.95 L635.40,312.74 L636.40,312.52 L637.40,312.31 L638.40,312.10 L639.40,311.89 L640.40,311.68 L641.40,311.48 L642.40,311.28 L643.40,311.08 L644.40,310.88 L645.40,310.68 L646.40,310.48 L647.40,310.29 L648.40,310.10 L649.40,309.91 L650.40,309.72 L651.40,309.53 L652.40,309.35 L653.40,309.17 L654.40,308.98 L655.40,308.81 L656.40,308.63 L657.40,308.45 L658.40,308.28 L659.40,308.11 L660.40,307.94 L661.40,307.77 L662.40,307.61 L663.40,307.44 L664.40,307.28 L665.40,307.12 L666.40,306.96 L667.40,306.80 L668.40,306.65 L669.40,306.50 L670.40,306.35 L671.40,306.20 L672.40,306.05 L673.40,305.90 L674.40,305.76 L675.40,305.62 L676.40,305.48 L677.40,305.34 L678.40,305.20 L679.40,305.07 L680.40,304.93 L681.40,304.80 L682.40,304.67 L683.40,304.55 L684.40,304.42 L685.40,304.30 L686.40,304.17 L687.40,304.05 L688.40,303.94 L689.40,303.82 L690.40,303.70 L691.40,303.59 L692.40,303.48 L693.40,303.37 L694.40,303.26 L695.40,303.16 L696.40,303.05 L697.40,302.95 L698.40,302.85 L699.40,302.75 L700.40,302.65 L701.40,302.56 L702.40,302.46 L703.40,302.37 L704.40,302.28 L705.40,302.20 L706.40,302.11 L707.40,302.02 L708.40,301.94 L709.40,301.86 L710.40,301.78 L711.40,301.70 L712.40,301.63 L713.40,301.55 L714.40,301.48 L715.40,301.41 L716.40,301.34 L717.40,301.27 L718.40,301.21 L719.40,301.15 L720.40,301.08 L721.40,301.02 L722.40,300.97 L723.40,300.91 L724.40,300.85 L725.40,300.80 L726.40,300.75 L727.40,300.70 L728.40,300.65 L729.40,300.61 L730.40,300.56 L731.40,300.52 L732.40,300.48 L733.40,300.44 L734.40,300.40 L735.40,300.36 L736.40,300.33 L737.40,300.30 L738.40,300.27 L739.40,300.24 L740.40,300.21 L741.40,300.18 L742.40,300.16 L743.40,300.14 L744.40,300.12 L745.00,300.11" stroke="#000" stroke-width="1.7" stroke-dasharray="15.3 9.7" stroke-dashoffset="1.4"/>
<path d="M67.00,542.00 L68.40,520.89 L69.40,521.45 L70.40,521.97 L71.40,522.45 L72.40,522.91 L73.40,523.32 L74.40,523.71 L75.40,524.06 L76.40,524.39 L77.40,524.68 L78.40,524.95 L79.40,525.19 L80.40,525.41 L81.40,525.60 L82.40,525.77 L83.40,525.91 L84.40,526.04 L85.40,526.14 L86.40,526.23 L87.40,526.30 L88.40,526.35 L89.40,526.39 L90.40,526.41 L91.40,526.42 L92.40,526.42 L93.40,526.41 L94.40,526.39 L95.40,526.36 L96.40,526.32 L97.40,526.28 L98.40,526.23 L99.40,526.17 L100.40,526.11 L101.40,526.04 L102.40,525.97 L103.40,525.90 L104.40,525.82 L105.40,525.73 L106.40,525.64 L107.40,525.54 L108.40,525.44 L109.40,525.33 L110.40,525.22 L111.40,525.10 L112.40,524.98 L113.40,524.85 L114.40,524.72 L115.40,524.58 L116.40,524.43 L117.40,524.29 L118.40,524.13 L119.40,523.98 L120.40,523.82 L121.40,523.65 L122.40,523.48 L123.40,523.30 L124.40,523.12 L125.40,522.94 L126.40,522.75 L127.40,522.55 L128.40,522.35 L129.40,522.15 L130.40,521.94 L131.40,521.72 L132.40,521.51 L133.40,521.28 L134.40,521.05 L135.40,520.82 L136.40,520.59 L137.40,520.34 L138.40,520.10 L139.40,519.85 L140.40,519.59 L141.40,519.33 L142.40,519.07 L143.40,518.80 L144.40,518.52 L145.40,518.25 L146.40,517.96 L147.40,517.67 L148.40,517.38 L149.40,517.09 L150.40,516.78 L151.40,516.48 L152.40,516.17 L153.40,515.85 L154.40,515.53 L155.40,515.21 L156.40,514.88 L157.40,514.55 L158.40,514.21 L159.40,513.86 L160.40,513.52 L161.40,513.17 L162.40,512.81 L163.40,512.45 L164.40,512.08 L165.40,511.71 L166.40,511.34 L167.40,510.96 L168.40,510.58 L169.40,510.19 L170.40,509.80 L171.40,509.40 L172.40,509.00 L173.40,508.59 L174.40,508.18 L175.40,507.77 L176.40,507.35 L177.40,506.93 L178.40,506.50 L179.40,506.07 L180.40,505.63 L181.40,505.19 L182.40,504.75 L183.40,504.30 L184.40,503.85 L185.40,503.39 L186.40,502.93 L187.40,502.46 L188.40,501.99 L189.40,501.52 L190.40,501.04 L191.40,500.56 L192.40,500.08 L193.40,499.59 L194.40,499.09 L195.40,498.60 L196.40,498.09 L197.40,497.59 L198.40,497.08 L199.40,496.57 L200.40,496.05 L201.40,495.53 L202.40,495.01 L203.40,494.48 L204.40,493.95 L205.40,493.41 L206.40,492.87 L207.40,492.33 L208.40,491.78 L209.40,491.23 L210.40,490.68 L211.40,490.12 L212.40,489.56 L213.40,489.00 L214.40,488.43 L215.40,487.86 L216.40,487.28 L217.40,486.70 L218.40,486.12 L219.40,485.54 L220.40,484.95 L221.40,484.36 L222.40,483.76 L223.40,483.16 L224.40,482.56 L225.40,481.96 L226.40,481.35 L227.40,480.74 L228.40,480.12 L229.40,479.51 L230.40,478.89 L231.40,478.26 L232.40,477.64 L233.40,477.01 L234.40,476.37 L235.40,475.74 L236.40,475.10 L237.40,474.46 L238.40,473.81 L239.40,473.16 L240.40,472.51 L241.40,471.86 L242.40,471.20 L243.40,470.54 L244.40,469.88 L245.40,469.22 L246.40,468.55 L247.40,467.88 L248.40,467.20 L249.40,466.53 L250.40,465.85 L251.40,465.17 L252.40,464.48 L253.40,463.80 L254.40,463.11 L255.40,462.42 L256.40,461.72 L257.40,461.03 L258.40,460.33 L259.40,459.63 L260.40,458.92 L261.40,458.22 L262.40,457.51 L263.40,456.80 L264.40,456.08 L265.40,455.37 L266.40,454.65 L267.40,453.93 L268.40,453.20 L269.40,452.48 L270.40,451.75 L271.40,451.02 L272.40,450.29 L273.40,449.56 L274.40,448.82 L275.40,448.08 L276.40,447.34 L277.40,446.60 L278.40,445.86 L279.40,445.11 L280.40,444.36 L281.40,443.61 L282.40,442.86 L283.40,442.11 L284.40,441.35 L285.40,440.59 L286.40,439.83 L287.40,439.07 L288.40,438.31 L289.40,437.54 L290.40,436.78 L291.40,436.01 L292.40,435.24 L293.40,434.46 L294.40,433.69 L295.40,432.91 L296.40,432.14 L297.40,431.36 L298.40,430.58 L299.40,429.80 L300.40,429.01 L301.40,428.23 L302.40,427.44 L303.40,426.66 L304.40,425.87 L305.40,425.08 L306.40,424.28 L307.40,423.49 L308.40,422.70 L309.40,421.90 L310.40,421.10 L311.40,420.30 L312.40,419.50 L313.40,418.70 L314.40,417.90 L315.40,417.10 L316.40,416.29 L317.40,415.49 L318.40,414.68 L319.40,413.87 L320.40,413.06 L321.40,412.25 L322.40,411.44 L323.40,410.63 L324.40,409.81 L325.40,409.00 L326.40,408.19 L327.40,407.37 L328.40,406.55 L329.40,405.73 L330.40,404.92 L331.40,404.10 L332.40,403.28 L333.40,402.45 L334.40,401.63 L335.40,400.81 L336.40,399.99 L337.40,399.16 L338.40,398.34 L339.40,397.51 L340.40,396.69 L341.40,395.86 L342.40,395.03 L343.40,394.20 L344.40,393.38 L345.40,392.55 L346.40,391.72 L347.40,390.89 L348.40,390.06 L349.40,389.23 L350.40,388.39 L351.40,387.56 L352.40,386.73 L353.40,385.90 L354.40,385.06 L355.40,384.23 L356.40,383.40 L357.40,382.56 L358.40,381.73 L359.40,380.89 L360.40,380.06 L361.40,379.22 L362.40,378.38 L363.40,377.55 L364.40,376.71 L365.40,375.87 L366.40,375.04 L367.40,374.20 L368.40,373.36 L369.40,372.53 L370.40,371.69 L371.40,370.85 L372.40,370.01 L373.40,369.18 L374.40,368.34 L375.40,367.50 L376.40,366.66 L377.40,365.82 L378.40,364.99 L379.40,364.15 L380.40,363.31 L381.40,362.47 L382.40,361.63 L383.40,360.80 L384.40,359.96 L385.40,359.12 L386.40,358.28 L387.40,357.45 L388.40,356.61 L389.40,355.77 L390.40,354.94 L391.40,354.10 L392.40,353.27 L393.40,352.43 L394.40,351.59 L395.40,350.76 L396.40,349.92 L397.40,349.09 L398.40,348.26 L399.40,347.42 L400.40,346.59 L401.40,345.76 L402.40,344.92 L403.40,344.09 L404.40,343.26 L405.40,342.43 L406.40,341.60 L407.40,340.77 L408.40,339.94 L409.40,339.11 L410.40,338.28 L411.40,337.46 L412.40,336.63 L413.40,335.80 L414.40,334.98 L415.40,334.15 L416.40,333.33 L417.40,332.50 L418.40,331.68 L419.40,330.86 L420.40,330.04 L421.40,329.21 L422.40,328.39 L423.40,327.57 L424.40,326.76 L425.40,325.94 L426.40,325.12 L427.40,324.31 L428.40,323.49 L429.40,322.68 L430.40,321.86 L431.40,321.05 L432.40,320.24 L433.40,319.43 L434.40,318.62 L435.40,317.81 L436.40,317.00 L437.40,316.20 L438.40,315.39 L439.40,314.59 L440.40,313.79 L441.40,312.98 L442.40,312.18 L443.40,311.38 L444.40,310.58 L445.40,309.79 L446.40,308.99 L447.40,308.20 L448.40,307.40 L449.40,306.61 L450.40,305.82 L451.40,305.03 L452.40,304.24 L453.40,303.45 L454.40,302.67 L455.40,301.88 L456.40,301.10 L457.40,300.32 L458.40,299.54 L459.40,298.76 L460.40,297.98 L461.40,297.21 L462.40,296.43 L463.40,295.66 L464.40,294.89 L465.40,294.12 L466.40,293.35 L467.40,292.58 L468.40,291.82 L469.40,291.05 L470.40,290.29 L471.40,289.53 L472.40,288.77 L473.40,288.01 L474.40,287.26 L475.40,286.51 L476.40,285.75 L477.40,285.00 L478.40,284.25 L479.40,283.51 L480.40,282.76 L481.40,282.02 L482.40,281.28 L483.40,280.54 L484.40,279.80 L485.40,279.07 L486.40,278.33 L487.40,277.60 L488.40,276.87 L489.40,276.14 L490.40,275.42 L491.40,274.69 L492.40,273.97 L493.40,273.25 L494.40,272.53 L495.40,271.82 L496.40,271.10 L497.40,270.39 L498.40,269.68 L499.40,268.98 L500.40,268.27 L501.40,267.57 L502.40,266.87 L503.40,266.17 L504.40,265.47 L505.40,264.78 L506.40,264.08 L507.40,263.39 L508.40,262.71 L509.40,262.02 L510.40,261.34 L511.40,260.66 L512.40,259.98 L513.40,259.30 L514.40,258.63 L515.40,257.96 L516.40,257.29 L517.40,256.63 L518.40,255.96 L519.40,255.30 L520.40,254.64 L521.40,253.99 L522.40,253.33 L523.40,252.68 L524.40,252.03 L525.40,251.39 L526.40,250.74 L527.40,250.10 L528.40,249.46 L529.40,248.83 L530.40,248.20 L531.40,247.57 L532.40,246.94 L533.40,246.31 L534.40,245.69 L535.40,245.07 L536.40,244.46 L537.40,243.84 L538.40,243.23 L539.40,242.62 L540.40,242.02 L541.40,241.42 L542.40,240.82 L543.40,240.22 L544.40,239.63 L545.40,239.04 L546.40,238.45 L547.40,237.86 L548.40,237.28 L549.40,236.70 L550.40,236.13 L551.40,235.56 L552.40,234.99 L553.40,234.42 L554.40,233.86 L555.40,233.30 L556.40,232.74 L557.40,232.18 L558.40,231.63 L559.40,231.08 L560.40,230.54 L561.40,230.00 L562.40,229.46 L563.40,228.92 L564.40,228.39 L565.40,227.86 L566.40,227.33 L567.40,226.81 L568.40,226.29 L569.40,225.77 L570.40,225.25 L571.40,224.74 L572.40,224.23 L573.40,223.72 L574.40,223.22 L575.40,222.72 L576.40,222.22 L577.40,221.73 L578.40,221.24 L579.40,220.75 L580.40,220.27 L581.40,219.78 L582.40,219.30 L583.40,218.83 L584.40,218.36 L585.40,217.88 L586.40,217.42 L587.40,216.95 L588.40,216.49 L589.40,216.03 L590.40,215.58 L591.40,215.13 L592.40,214.68 L593.40,214.23 L594.40,213.79 L595.40,213.35 L596.40,212.91 L597.40,212.47 L598.40,212.04 L599.40,211.61 L600.40,211.19 L601.40,210.76 L602.40,210.34 L603.40,209.93 L604.40,209.51 L605.40,209.10 L606.40,208.69 L607.40,208.29 L608.40,207.88 L609.40,207.48 L610.40,207.09 L611.40,206.69 L612.40,206.30 L613.40,205.91 L614.40,205.53 L615.40,205.15 L616.40,204.77 L617.40,204.39 L618.40,204.02 L619.40,203.65 L620.40,203.28 L621.40,202.91 L622.40,202.55 L623.40,202.19 L624.40,201.83 L625.40,201.48 L626.40,201.13 L627.40,200.78 L628.40,200.44 L629.40,200.10 L630.40,199.76 L631.40,199.42 L632.40,199.09 L633.40,198.76 L634.40,198.43 L635.40,198.10 L636.40,197.78 L637.40,197.46 L638.40,197.15 L639.40,196.83 L640.40,196.52 L641.40,196.21 L642.40,195.91 L643.40,195.61 L644.40,195.31 L645.40,195.01 L646.40,194.72 L647.40,194.43 L648.40,194.14 L649.40,193.85 L650.40,193.57 L651.40,193.29 L652.40,193.01 L653.40,192.74 L654.40,192.47 L655.40,192.20 L656.40,191.93 L657.40,191.67 L658.40,191.41 L659.40,191.15 L660.40,190.90 L661.40,190.65 L662.40,190.40 L663.40,190.15 L664.40,189.91 L665.40,189.67 L666.40,189.43 L667.40,189.19 L668.40,188.96 L669.40,188.73 L670.40,188.50 L671.40,188.28 L672.40,188.06 L673.40,187.84 L674.40,187.62 L675.40,187.41 L676.40,187.20 L677.40,186.99 L678.40,186.79 L679.40,186.59 L680.40,186.39 L681.40,186.19 L682.40,186.00 L683.40,185.80 L684.40,185.62 L685.40,185.43 L686.40,185.25 L687.40,185.07 L688.40,184.89 L689.40,184.71 L690.40,184.54 L691.40,184.37 L692.40,184.20 L693.40,184.04 L694.40,183.88 L695.40,183.72 L696.40,183.56 L697.40,183.41 L698.40,183.26 L699.40,183.11 L700.40,182.97 L701.40,182.82 L702.40,182.68 L703.40,182.55 L704.40,182.41 L705.40,182.28 L706.40,182.15 L707.40,182.02 L708.40,181.90 L709.40,181.78 L710.40,181.66 L711.40,181.54 L712.40,181.43 L713.40,181.32 L714.40,181.21 L715.40,181.11 L716.40,181.00 L717.40,180.90 L718.40,180.81 L719.40,180.71 L720.40,180.62 L721.40,180.53 L722.40,180.44 L723.40,180.36 L724.40,180.28 L725.40,180.20 L726.40,180.12 L727.40,180.05 L728.40,179.98 L729.40,179.91 L730.40,179.84 L731.40,179.78 L732.40,179.72 L733.40,179.66 L734.40,179.60 L735.40,179.55 L736.40,179.50 L737.40,179.45 L738.40,179.41 L739.40,179.36 L740.40,179.32 L741.40,179.29 L742.40,179.25 L743.40,179.22 L744.40,179.19 L745.00,179.17" stroke="#000" stroke-width="1.7" stroke-dasharray="15.3 9.7" stroke-dashoffset="0.5"/>
<path d="M67.00,542.00 L68.40,518.48 L69.40,518.73 L70.40,518.98 L71.40,519.21 L72.40,519.43 L73.40,519.64 L74.40,519.84 L75.40,520.03 L76.40,520.21 L77.40,520.38 L78.40,520.54 L79.40,520.69 L80.40,520.82 L81.40,520.95 L82.40,521.07 L83.40,521.18 L84.40,521.28 L85.40,521.36 L86.40,521.44 L87.40,521.51 L88.40,521.57 L89.40,521.62 L90.40,521.66 L91.40,521.69 L92.40,521.71 L93.40,521.72 L94.40,521.72 L95.40,521.71 L96.40,521.70 L97.40,521.67 L98.40,521.64 L99.40,521.59 L100.40,521.54 L101.40,521.48 L102.40,521.41 L103.40,521.33 L104.40,521.24 L105.40,521.15 L106.40,521.04 L107.40,520.93 L108.40,520.81 L109.40,520.68 L110.40,520.54 L111.40,520.39 L112.40,520.24 L113.40,520.07 L114.40,519.90 L115.40,519.72 L116.40,519.54 L117.40,519.34 L118.40,519.14 L119.40,518.93 L120.40,518.71 L121.40,518.48 L122.40,518.25 L123.40,518.01 L124.40,517.76 L125.40,517.51 L126.40,517.25 L127.40,516.98 L128.40,516.70 L129.40,516.41 L130.40,516.12 L131.40,515.83 L132.40,515.52 L133.40,515.21 L134.40,514.89 L135.40,514.57 L136.40,514.23 L137.40,513.89 L138.40,513.55 L139.40,513.20 L140.40,512.84 L141.40,512.47 L142.40,512.10 L143.40,511.72 L144.40,511.34 L145.40,510.95 L146.40,510.55 L147.40,510.15 L148.40,509.74 L149.40,509.32 L150.40,508.90 L151.40,508.47 L152.40,508.04 L153.40,507.60 L154.40,507.15 L155.40,506.70 L156.40,506.24 L157.40,505.78 L158.40,505.31 L159.40,504.83 L160.40,504.35 L161.40,503.86 L162.40,503.37 L163.40,502.87 L164.40,502.36 L165.40,501.85 L166.40,501.33 L167.40,500.81 L168.40,500.28 L169.40,499.75 L170.40,499.21 L171.40,498.67 L172.40,498.12 L173.40,497.57 L174.40,497.01 L175.40,496.44 L176.40,495.87 L177.40,495.29 L178.40,494.71 L179.40,494.13 L180.40,493.54 L181.40,492.94 L182.40,492.34 L183.40,491.73 L184.40,491.12 L185.40,490.50 L186.40,489.88 L187.40,489.26 L188.40,488.63 L189.40,487.99 L190.40,487.35 L191.40,486.70 L192.40,486.05 L193.40,485.40 L194.40,484.74 L195.40,484.07 L196.40,483.40 L197.40,482.73 L198.40,482.05 L199.40,481.36 L200.40,480.67 L201.40,479.98 L202.40,479.28 L203.40,478.58 L204.40,477.87 L205.40,477.16 L206.40,476.44 L207.40,475.72 L208.40,474.99 L209.40,474.26 L210.40,473.53 L211.40,472.79 L212.40,472.04 L213.40,471.29 L214.40,470.54 L215.40,469.78 L216.40,469.02 L217.40,468.26 L218.40,467.48 L219.40,466.71 L220.40,465.93 L221.40,465.15 L222.40,464.36 L223.40,463.57 L224.40,462.77 L225.40,461.97 L226.40,461.16 L227.40,460.35 L228.40,459.54 L229.40,458.72 L230.40,457.90 L231.40,457.07 L232.40,456.24 L233.40,455.41 L234.40,454.57 L235.40,453.73 L236.40,452.88 L237.40,452.03 L238.40,451.18 L239.40,450.32 L240.40,449.46 L241.40,448.59 L242.40,447.72 L243.40,446.85 L244.40,445.97 L245.40,445.09 L246.40,444.21 L247.40,443.32 L248.40,442.42 L249.40,441.53 L250.40,440.63 L251.40,439.73 L252.40,438.82 L253.40,437.91 L254.40,436.99 L255.40,436.08 L256.40,435.16 L257.40,434.23 L258.40,433.30 L259.40,432.37 L260.40,431.44 L261.40,430.50 L262.40,429.56 L263.40,428.62 L264.40,427.67 L265.40,426.72 L266.40,425.77 L267.40,424.81 L268.40,423.85 L269.40,422.89 L270.40,421.92 L271.40,420.95 L272.40,419.98 L273.40,419.00 L274.40,418.03 L275.40,417.05 L276.40,416.06 L277.40,415.08 L278.40,414.09 L279.40,413.09 L280.40,412.10 L281.40,411.10 L282.40,410.10 L283.40,409.10 L284.40,408.09 L285.40,407.08 L286.40,406.07 L287.40,405.06 L288.40,404.04 L289.40,403.03 L290.40,402.01 L291.40,400.98 L292.40,399.96 L293.40,398.93 L294.40,397.90 L295.40,396.87 L296.40,395.83 L297.40,394.79 L298.40,393.75 L299.40,392.71 L300.40,391.67 L301.40,390.62 L302.40,389.58 L303.40,388.53 L304.40,387.47 L305.40,386.42 L306.40,385.36 L307.40,384.30 L308.40,383.24 L309.40,382.18 L310.40,381.12 L311.40,380.05 L312.40,378.99 L313.40,377.92 L314.40,376.85 L315.40,375.77 L316.40,374.70 L317.40,373.62 L318.40,372.54 L319.40,371.46 L320.40,370.38 L321.40,369.30 L322.40,368.22 L323.40,367.13 L324.40,366.04 L325.40,364.96 L326.40,363.87 L327.40,362.77 L328.40,361.68 L329.40,360.59 L330.40,359.49 L331.40,358.40 L332.40,357.30 L333.40,356.20 L334.40,355.10 L335.40,354.00 L336.40,352.89 L337.40,351.79 L338.40,350.69 L339.40,349.58 L340.40,348.47 L341.40,347.37 L342.40,346.26 L343.40,345.15 L344.40,344.04 L345.40,342.93 L346.40,341.81 L347.40,340.70 L348.40,339.59 L349.40,338.47 L350.40,337.36 L351.40,336.24 L352.40,335.12 L353.40,334.01 L354.40,332.89 L355.40,331.77 L356.40,330.65 L357.40,329.53 L358.40,328.41 L359.40,327.29 L360.40,326.17 L361.40,325.05 L362.40,323.92 L363.40,322.80 L364.40,321.68 L365.40,320.55 L366.40,319.43 L367.40,318.31 L368.40,317.18 L369.40,316.06 L370.40,314.93 L371.40,313.81 L372.40,312.68 L373.40,311.56 L374.40,310.43 L375.40,309.31 L376.40,308.18 L377.40,307.06 L378.40,305.93 L379.40,304.81 L380.40,303.68 L381.40,302.56 L382.40,301.43 L383.40,300.31 L384.40,299.18 L385.40,298.06 L386.40,296.93 L387.40,295.81 L388.40,294.68 L389.40,293.56 L390.40,292.44 L391.40,291.32 L392.40,290.19 L393.40,289.07 L394.40,287.95 L395.40,286.83 L396.40,285.71 L397.40,284.59 L398.40,283.47 L399.40,282.35 L400.40,281.23 L401.40,280.11 L402.40,279.00 L403.40,277.88 L404.40,276.77 L405.40,275.65 L406.40,274.54 L407.40,273.42 L408.40,272.31 L409.40,271.20 L410.40,270.09 L411.40,268.98 L412.40,267.87 L413.40,266.76 L414.40,265.66 L415.40,264.55 L416.40,263.44 L417.40,262.34 L418.40,261.24 L419.40,260.14 L420.40,259.04 L421.40,257.94 L422.40,256.84 L423.40,255.74 L424.40,254.65 L425.40,253.55 L426.40,252.46 L427.40,251.37 L428.40,250.28 L429.40,249.19 L430.40,248.10 L431.40,247.02 L432.40,245.93 L433.40,244.85 L434.40,243.77 L435.40,242.69 L436.40,241.61 L437.40,240.53 L438.40,239.46 L439.40,238.38 L440.40,237.31 L441.40,236.24 L442.40,235.17 L443.40,234.11 L444.40,233.04 L445.40,231.98 L446.40,230.92 L447.40,229.86 L448.40,228.80 L449.40,227.75 L450.40,226.69 L451.40,225.64 L452.40,224.59 L453.40,223.55 L454.40,222.50 L455.40,221.46 L456.40,220.42 L457.40,219.38 L458.40,218.34 L459.40,217.31 L460.40,216.27 L461.40,215.24 L462.40,214.21 L463.40,213.19 L464.40,212.17 L465.40,211.14 L466.40,210.13 L467.40,209.11 L468.40,208.09 L469.40,207.08 L470.40,206.07 L471.40,205.07 L472.40,204.06 L473.40,203.06 L474.40,202.06 L475.40,201.06 L476.40,200.07 L477.40,199.07 L478.40,198.08 L479.40,197.10 L480.40,196.11 L481.40,195.13 L482.40,194.15 L483.40,193.17 L484.40,192.20 L485.40,191.22 L486.40,190.26 L487.40,189.29 L488.40,188.32 L489.40,187.36 L490.40,186.40 L491.40,185.45 L492.40,184.49 L493.40,183.54 L494.40,182.60 L495.40,181.65 L496.40,180.71 L497.40,179.77 L498.40,178.83 L499.40,177.90 L500.40,176.97 L501.40,176.04 L502.40,175.12 L503.40,174.20 L504.40,173.28 L505.40,172.36 L506.40,171.45 L507.40,170.54 L508.40,169.63 L509.40,168.73 L510.40,167.83 L511.40,166.93 L512.40,166.03 L513.40,165.14 L514.40,164.25 L515.40,163.37 L516.40,162.49 L517.40,161.61 L518.40,160.73 L519.40,159.86 L520.40,158.99 L521.40,158.12 L522.40,157.26 L523.40,156.40 L524.40,155.55 L525.40,154.69 L526.40,153.84 L527.40,153.00 L528.40,152.15 L529.40,151.31 L530.40,150.48 L531.40,149.65 L532.40,148.82 L533.40,147.99 L534.40,147.17 L535.40,146.35 L536.40,145.54 L537.40,144.72 L538.40,143.92 L539.40,143.11 L540.40,142.31 L541.40,141.51 L542.40,140.72 L543.40,139.93 L544.40,139.14 L545.40,138.36 L546.40,137.58 L547.40,136.81 L548.40,136.03 L549.40,135.27 L550.40,134.50 L551.40,133.74 L552.40,132.98 L553.40,132.23 L554.40,131.48 L555.40,130.74 L556.40,130.00 L557.40,129.26 L558.40,128.53 L559.40,127.80 L560.40,127.07 L561.40,126.35 L562.40,125.63 L563.40,124.91 L564.40,124.20 L565.40,123.50 L566.40,122.79 L567.40,122.09 L568.40,121.40 L569.40,120.70 L570.40,120.02 L571.40,119.33 L572.40,118.65 L573.40,117.97 L574.40,117.30 L575.40,116.63 L576.40,115.97 L577.40,115.30 L578.40,114.65 L579.40,113.99 L580.40,113.34 L581.40,112.70 L582.40,112.05 L583.40,111.42 L584.40,110.78 L585.40,110.15 L586.40,109.52 L587.40,108.90 L588.40,108.28 L589.40,107.66 L590.40,107.05 L591.40,106.44 L592.40,105.84 L593.40,105.24 L594.40,104.64 L595.40,104.05 L596.40,103.46 L597.40,102.87 L598.40,102.29 L599.40,101.71 L600.40,101.14 L601.40,100.57 L602.40,100.00 L603.40,99.44 L604.40,98.88 L605.40,98.33 L606.40,97.77 L607.40,97.23 L608.40,96.68 L609.40,96.14 L610.40,95.61 L611.40,95.08 L612.40,94.55 L613.40,94.02 L614.40,93.50 L615.40,92.99 L616.40,92.47 L617.40,91.96 L618.40,91.46 L619.40,90.96 L620.40,90.46 L621.40,89.96 L622.40,89.47 L623.40,88.99 L624.40,88.51 L625.40,88.03 L626.40,87.55 L627.40,87.08 L628.40,86.61 L629.40,86.15 L630.40,85.69 L631.40,85.24 L632.40,84.78 L633.40,84.34 L634.40,83.89 L635.40,83.45 L636.40,83.02 L637.40,82.58 L638.40,82.15 L639.40,81.73 L640.40,81.31 L641.40,80.89 L642.40,80.48 L643.40,80.07 L644.40,79.66 L645.40,79.26 L646.40,78.86 L647.40,78.47 L648.40,78.08 L649.40,77.69 L650.40,77.31 L651.40,76.93 L652.40,76.55 L653.40,76.18 L654.40,75.81 L655.40,75.45 L656.40,75.09 L657.40,74.73 L658.40,74.38 L659.40,74.03 L660.40,73.69 L661.40,73.35 L662.40,73.01 L663.40,72.68 L664.40,72.35 L665.40,72.02 L666.40,71.70 L667.40,71.38 L668.40,71.07 L669.40,70.76 L670.40,70.45 L671.40,70.15 L672.40,69.85 L673.40,69.56 L674.40,69.27 L675.40,68.98 L676.40,68.70 L677.40,68.42 L678.40,68.14 L679.40,67.87 L680.40,67.60 L681.40,67.34 L682.40,67.08 L683.40,66.82 L684.40,66.57 L685.40,66.32 L686.40,66.08 L687.40,65.84 L688.40,65.60 L689.40,65.37 L690.40,65.14 L691.40,64.91 L692.40,64.69 L693.40,64.47 L694.40,64.26 L695.40,64.05 L696.40,63.84 L697.40,63.64 L698.40,63.44 L699.40,63.25 L700.40,63.05 L701.40,62.87 L702.40,62.68 L703.40,62.51 L704.40,62.33 L705.40,62.16 L706.40,61.99 L707.40,61.83 L708.40,61.67 L709.40,61.51 L710.40,61.36 L711.40,61.21 L712.40,61.07 L713.40,60.93 L714.40,60.79 L715.40,60.66 L716.40,60.53 L717.40,60.40 L718.40,60.28 L719.40,60.16 L720.40,60.05 L721.40,59.94 L722.40,59.83 L723.40,59.73 L724.40,59.63 L725.40,59.54 L726.40,59.45 L727.40,59.36 L728.40,59.28 L729.40,59.20 L730.40,59.12 L731.40,59.05 L732.40,58.99 L733.40,58.92 L734.40,58.86 L735.40,58.81 L736.40,58.76 L737.40,58.71 L738.40,58.66 L739.40,58.62 L740.40,58.59 L741.40,58.55 L742.40,58.53 L743.40,58.50 L744.40,58.48 L745.00,58.47" stroke="#000" stroke-width="1.7" stroke-dasharray="15.3 9.7" stroke-dashoffset="2.0"/>
</g>
<g font-family="Liberation Sans, sans-serif" font-size="21.2" fill="#000" text-anchor="middle">
<text x="66.4" y="572">0</text>
<text x="260.1" y="572">2</text>
<text x="357.0" y="572">3</text>
<text x="453.8" y="572">4</text>
<text x="550.7" y="572">5</text>
<text x="647.5" y="572">6</text>
<text x="744.4" y="572">7</text>
</g>
<g font-family="Liberation Sans, sans-serif" font-size="21.2" fill="#000" text-anchor="end">
<text x="58" y="550.6">0</text>
<text x="58" y="461.3">0.2</text>
<text x="58" y="371.9">0.4</text>
<text x="58" y="282.6">0.6</text>
<text x="58" y="193.3">0.8</text>
<text x="58" y="14.6">.2</text>
</g>
<g fill="none" stroke="#000"><path d="M163.93,571.70 V557.40" stroke-width="1.85"/><path d="M159.25,560.80 C161.05,560.80 162.55,559.90 163.35,557.60" stroke-width="1.7"/><path d="M52.28,103.83 V89.53" stroke-width="1.85"/><path d="M47.60,92.93 C49.40,92.93 50.90,92.03 51.70,89.73" stroke-width="1.7"/><path d="M35.18,14.60 V0.30" stroke-width="1.85"/><path d="M30.50,3.70 C32.30,3.70 33.80,2.80 34.60,0.50" stroke-width="1.7"/></g>
<g transform="translate(400,602.6)" fill="none" stroke="#000" stroke-width="1.35" stroke-linecap="round" stroke-linejoin="round"><path d="M0.3,-6.6 C0.9,-8.7 1.6,-9.8 2.5,-9.8 C3.6,-9.8 4.5,-9.3 4.3,-8.2" stroke-width="1.0"/><path d="M4.3,-8.2 L2.1,-0.4 M4.6,-7.9 C5.6,-9.2 6.9,-9.9 8.3,-9.9 C9.8,-9.9 10.9,-9.2 10.6,-7.6 L7.6,6"/></g>
<g transform="translate(17.2,303.4) rotate(-90)" font-family="Liberation Sans, sans-serif" font-size="23.5"><text x="0" y="0">N</text><text x="16.4" y="0">g</text><text x="29.3" y="0">(</text><text x="50.6" y="0">)</text></g>
<g transform="translate(16.6,264.3) rotate(-90) scale(0.93)" fill="none" stroke="#000" stroke-width="1.35" stroke-linecap="round" stroke-linejoin="round"><path d="M0.3,-6.6 C0.9,-8.7 1.6,-9.8 2.5,-9.8 C3.6,-9.8 4.5,-9.3 4.3,-8.2" stroke-width="1.0"/><path d="M4.3,-8.2 L2.1,-0.4 M4.6,-7.9 C5.6,-9.2 6.9,-9.9 8.3,-9.9 C9.8,-9.9 10.9,-9.2 10.6,-7.6 L7.6,6"/></g>
<rect x="123" y="73.3" width="268.8" height="74.5" fill="#fff" stroke="#262626" stroke-width="1.4"/>
<path d="M129,92.7 H192" stroke="#ff0000" stroke-width="1.7"/>
<path d="M129,128 H192" stroke="#262626" stroke-width="1.7" stroke-dasharray="15.6 9.6"/>
<text font-family="Liberation Sans, sans-serif" font-size="19"><tspan x="197.6" y="97.0">A</tspan><tspan x="209.5" y="97.0">g</tspan><tspan x="219.4" y="99.1">+</tspan><tspan x="230.9" y="97.0">T</tspan><tspan x="241.4" y="97.0">i</tspan><tspan x="245.8" y="97.0">O</tspan><tspan x="262.6" y="106.1" font-size="15">2</tspan><tspan x="271.4" y="99.1">+</tspan><tspan x="283.0" y="97.0">A</tspan><tspan x="295.5" y="97.0">l</tspan><tspan x="300.0" y="106.1" font-size="15">2</tspan><tspan x="309.2" y="97.0">O</tspan><tspan x="324.8" y="106.1" font-size="15">3</tspan><tspan x="334.5" y="97.0">/</tspan><tspan x="339.0" y="97.0">b</tspan><tspan x="350.0" y="97.0">l</tspan><tspan x="354.1" y="97.0">o</tspan><tspan x="365.3" y="97.0">o</tspan><tspan x="376.1" y="97.0">d</tspan></text>
<text font-family="Liberation Sans, sans-serif" font-size="19"><tspan x="197.2" y="130.8">A</tspan><tspan x="209.3" y="130.8">g</tspan><tspan x="219.6" y="132.9">+</tspan><tspan x="230.9" y="130.8">T</tspan><tspan x="241.9" y="130.8">i</tspan><tspan x="245.8" y="130.8">O</tspan><tspan x="262.7" y="139.9" font-size="15">2</tspan><tspan x="272.0" y="130.8">/</tspan><tspan x="276.9" y="130.8">b</tspan><tspan x="287.7" y="130.8">l</tspan><tspan x="291.5" y="130.8">o</tspan><tspan x="302.5" y="130.8">o</tspan><tspan x="313.2" y="130.8">d</tspan></text>
<rect x="441.9" y="440.6" width="137.4" height="29.2" fill="#fff" stroke="#000" stroke-width="1.4"/>
<text transform="translate(454.8,460.9) scale(1,1.07)" font-family="Liberation Sans, sans-serif" font-size="20.7">Br = 2, 3, 4</text>
<path d="M533.9,392.4 L437.3,224.6" stroke="#000" stroke-width="1.6" fill="none"/>
<path d="M429.1,210.4 L446.9,224.8 L437.1,223.7 L433.2,232.7 Z" fill="#000" stroke="#000" stroke-width="0.8" stroke-linejoin="miter"/>
</svg>
</body></html>
